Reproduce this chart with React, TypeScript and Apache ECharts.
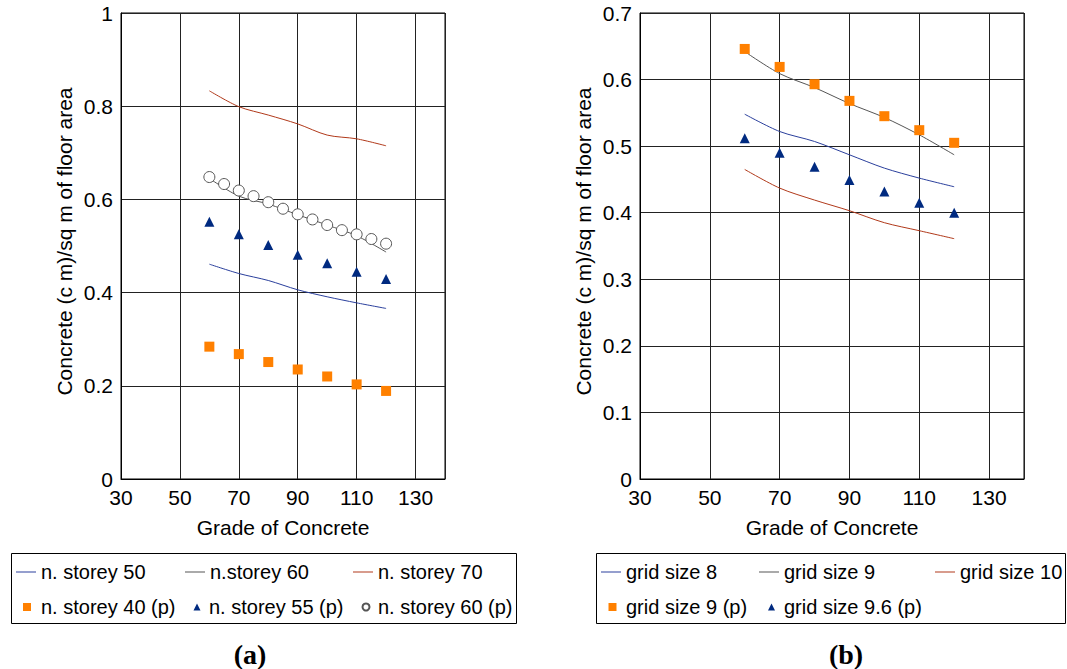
import React, { useEffect, useRef } from "react";
import * as echarts from "echarts";

// ---- data ----
const grades = [60, 70, 80, 90, 100, 110, 120];
const grades5 = [60, 65, 70, 75, 80, 85, 90, 95, 100, 105, 110, 115, 120];

// (a)
const storey50 = [0.461, 0.441, 0.426, 0.406, 0.391, 0.378, 0.366];
const storey60 = [0.645, 0.607, 0.59, 0.567, 0.545, 0.522, 0.487];
const storey70 = [0.833, 0.799, 0.781, 0.762, 0.738, 0.73, 0.715];
const storey40p = [0.284, 0.268, 0.251, 0.235, 0.22, 0.203, 0.189];
const storey55p = [0.552, 0.525, 0.502, 0.481, 0.463, 0.445, 0.429];
const storey60p = [0.648, 0.633, 0.619, 0.607, 0.594, 0.58, 0.568, 0.557, 0.545, 0.534, 0.525, 0.515, 0.505];

// (b)
const grid8 = [0.548, 0.522, 0.507, 0.487, 0.467, 0.452, 0.439];
const grid9 = [0.642, 0.609, 0.588, 0.564, 0.543, 0.517, 0.487];
const grid10 = [0.465, 0.437, 0.419, 0.403, 0.385, 0.373, 0.361];
const grid9p = [0.646, 0.619, 0.593, 0.568, 0.545, 0.524, 0.505];
const grid96p = [0.512, 0.49, 0.469, 0.449, 0.432, 0.415, 0.4];

const xTitle = "Grade of Concrete";
const yTitle = "Concrete (c m)/sq m of floor area";

const FONT = "Liberation Sans";
const BLUE = "#2a3f9c";
const GREY = "#555555";
const RED = "#b0391a";
const ORANGE = "#ff8000";
const NAVY = "#002a80";

const pairs = (xs: number[], ys: number[]) => xs.map((x, i) => [x, ys[i]]);

function xAxisFor(gridIndex: number) {
  return {
    type: "value",
    gridIndex,
    min: 30,
    max: 140,
    interval: 20,
    name: xTitle,
    nameLocation: "middle",
    nameGap: 38,
    nameTextStyle: { fontFamily: FONT, fontSize: 21, color: "#000" },
    axisLine: { show: true, lineStyle: { color: "#000", width: 1 } },
    axisTick: { show: false },
    axisLabel: {
      fontFamily: FONT,
      fontSize: 21,
      color: "#000",
      margin: 8,
      formatter: (v: number) => (v === 140 ? "" : String(v)),
    },
    splitLine: { show: true, lineStyle: { color: "#222", width: 1 } },
  };
}

function yAxisFor(gridIndex: number, max: number, interval: number, nameGap: number, margin: number) {
  return {
    type: "value",
    gridIndex,
    min: 0,
    max,
    interval,
    name: yTitle,
    nameLocation: "middle",
    nameGap,
    nameTextStyle: { fontFamily: FONT, fontSize: 21, color: "#000", padding: [0, 0, 0, 9] },
    axisLine: { show: true, lineStyle: { color: "#000", width: 1 } },
    axisTick: { show: false },
    axisLabel: { fontFamily: FONT, fontSize: 21, color: "#000", margin },
    splitLine: { show: true, lineStyle: { color: "#222", width: 1 } },
  };
}

function lineSeries(name: string, xi: number, xs: number[], ys: number[], color: string) {
  return {
    type: "line",
    name,
    xAxisIndex: xi,
    yAxisIndex: xi,
    data: pairs(xs, ys),
    symbol: "none",
    smooth: 0.3,
    lineStyle: { color, width: 1 },
    itemStyle: { color },
    z: 3,
  };
}

function scatterSeries(name: string, xi: number, xs: number[], ys: number[], symbol: string, color: string, size: number) {
  const isCircle = symbol === "circle";
  return {
    type: "scatter",
    name,
    xAxisIndex: xi,
    yAxisIndex: xi,
    data: pairs(xs, ys),
    symbol,
    symbolSize: size,
    itemStyle: isCircle
      ? { color: "#fff", borderColor: color, borderWidth: 1, opacity: 1 }
      : { color, opacity: 1 },
    z: 4,
  };
}

// one legend component per entry so that each can sit in its own column
function legendItem(name: string, left: number, row: number, kind: "line" | "rect" | "triangle" | "circle", textStart: number) {
  const isLine = kind === "line";
  const w = isLine ? 20 : kind === "rect" ? 8 : 7;
  const h = isLine ? 1 : w;
  const pad = Math.max(0, textStart - (left + w + 5));
  return {
    show: true,
    orient: "horizontal",
    left,
    top: row === 0 ? 562 : 597,
    itemWidth: w,
    itemHeight: h,
    padding: 0,
    selectedMode: false,
    symbolKeepAspect: !isLine,
    data: [{ name, icon: kind === "line" ? "rect" : kind }],
    textStyle: { fontFamily: FONT, fontSize: 20, color: "#000", lineHeight: 20, padding: [0, 0, 0, pad] },
  };
}

export default function App() {
  const ref = useRef<HTMLDivElement>(null);
  useEffect(() => {
    document.body.style.margin = "0";
    const chart = echarts.init(ref.current!, null, { renderer: "svg" });
    chart.setOption({
      animation: false,
      backgroundColor: "#fff",
      grid: [
        { left: 121, top: 13, width: 324, height: 466, show: true, borderColor: "#000", borderWidth: 1, containLabel: false },
        { left: 640, top: 13, width: 384, height: 466, show: true, borderColor: "#000", borderWidth: 1, containLabel: false },
      ],
      xAxis: [xAxisFor(0), xAxisFor(1)],
      yAxis: [yAxisFor(0, 1, 0.2, 46, 8), yAxisFor(1, 0.7, 0.1, 46, 8)],
      legend: [
        legendItem("n. storey 50", 16, 0, "line", 41),
        legendItem("n.storey 60", 185, 0, "line", 209),
        legendItem("n. storey 70", 353, 0, "line", 377),
        legendItem("n. storey 40 (p)", 23, 1, "rect", 41),
        legendItem("n. storey 55 (p)", 193.5, 1, "triangle", 209),
        legendItem("n. storey 60 (p)", 361.5, 1, "circle", 377),
        legendItem("grid size 8", 601, 0, "line", 626),
        legendItem("grid size 9", 759, 0, "line", 784),
        legendItem("grid size 10", 935, 0, "line", 958),
        legendItem("grid size 9 (p)", 608.5, 1, "rect", 626),
        legendItem("grid size 9.6 (p)", 768, 1, "triangle", 784),
      ],
      graphic: [
        { type: "rect", shape: { x: 11.5, y: 553.5, width: 505, height: 70 }, style: { fill: "none", stroke: "#000", lineWidth: 1 }, silent: true },
        { type: "rect", shape: { x: 596.5, y: 553.5, width: 469, height: 70 }, style: { fill: "none", stroke: "#000", lineWidth: 1 }, silent: true },
        { type: "text", x: 250, y: 654, style: { text: "(a)", font: "bold 28px 'Liberation Serif'", fill: "#000", textAlign: "center", textVerticalAlign: "middle" } },
        { type: "text", x: 846, y: 654, style: { text: "(b)", font: "bold 28px 'Liberation Serif'", fill: "#000", textAlign: "center", textVerticalAlign: "middle" } },
      ],
      series: [
        lineSeries("n. storey 50", 0, grades, storey50, BLUE),
        lineSeries("n.storey 60", 0, grades, storey60, GREY),
        lineSeries("n. storey 70", 0, grades, storey70, RED),
        scatterSeries("n. storey 40 (p)", 0, grades, storey40p, "rect", ORANGE, 10),
        scatterSeries("n. storey 55 (p)", 0, grades, storey55p, "triangle", NAVY, 10),
        scatterSeries("n. storey 60 (p)", 0, grades5, storey60p, "circle", GREY, 11),
        lineSeries("grid size 8", 1, grades, grid8, BLUE),
        lineSeries("grid size 9", 1, grades, grid9, GREY),
        lineSeries("grid size 10", 1, grades, grid10, RED),
        scatterSeries("grid size 9 (p)", 1, grades, grid9p, "rect", ORANGE, 10),
        scatterSeries("grid size 9.6 (p)", 1, grades, grid96p, "triangle", NAVY, 10),
      ],
    });
    return () => chart.dispose();
  }, []);
  return <div ref={ref} style={{ width: 1067, height: 669 }} />;
}
